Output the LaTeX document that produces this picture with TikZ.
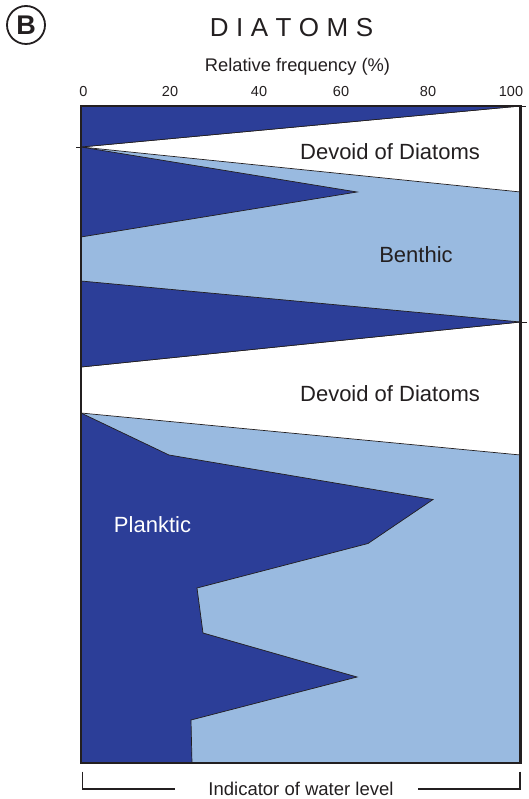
\documentclass[tikz,border=0pt]{standalone}
\usepackage{fontspec}
\setmainfont{Liberation Sans}
\usetikzlibrary{positioning}
\definecolor{planktic}{RGB}{44,62,152}
\definecolor{benthic}{RGB}{153,186,224}
\definecolor{ink}{RGB}{35,31,32}

\begin{document}
\begin{tikzpicture}[x=1pt, y=-1pt,
                zone/.style={draw=ink, line width=0.7pt, line join=miter},
                dark/.style={zone, fill=planktic},
                void/.style={zone, fill=white},
                label/.style={font=\fontsize{22}{24}\selectfont, anchor=base, inner sep=0pt, text=ink},
                tick/.style={font=\fontsize{14.5}{16}\selectfont, anchor=base, inner sep=0pt, text=ink},
                bracket/.style={draw=ink, line width=1.3pt},
            ]
            \useasboundingbox (0,0) rectangle (529,799);

            % Panel letter and headings
            \node[circle, draw=ink, line width=1.8pt, minimum size=38pt, inner sep=0pt,
                  font=\bfseries\fontsize{27}{27}\selectfont, text=ink] (panel) at (26,25) {B};
            \node[anchor=base, inner sep=0pt, font=\fontsize{26}{28}\selectfont, text=ink] (title) at (291.5,37)
                {D\kern7.5pt I\kern7.5pt A\kern7.5pt T\kern7.5pt O\kern7.5pt M\kern7.5pt S};
            \node[anchor=base, inner sep=0pt, font=\fontsize{18.3}{20}\selectfont, text=ink] (xlabel) at (297.5,72)
                {Relative frequency (\%)};

            % Axis numbers
            \node[tick] (t0) at (83.5,97) {0};
            \node[tick] (t20) at (170,97) {20};
            \node[tick] (t40) at (259,97) {40};
            \node[tick] (t60) at (341,97) {60};
            \node[tick] (t80) at (428,97) {80};
            \node[tick] (t100) at (511,97) {100};

            % Benthic background
            \fill[benthic] (81,106) rectangle (520.5,763);

            % Devoid zones
            \draw[void] (81,147) -- (520.5,106) -- (520.5,192) -- cycle;
            \draw[void] (81,367) -- (520.5,322) -- (520.5,455) -- (81,413) -- cycle;

            % Planktic zones
            \draw[dark] (81,106) -- (520.5,106) -- (81,147) -- cycle;
            \draw[dark] (81,147) -- (357,192) -- (81,237) -- cycle;
            \draw[dark] (81,281) -- (520.5,322) -- (81,367) -- cycle;
            \draw[dark] (81,413) -- (169,455) -- (433,499.5) -- (368,543.5) -- (197,588)
                -- (203,633) -- (357,677) -- (191,720) -- (192,763) -- (81,763) -- cycle;

            % Small ticks
            \draw[zone] (76,147) -- (81,147);
            \draw[zone] (520.5,106) -- (526,106);
            \draw[zone] (520.5,322) -- (527,322);

            % Frame
            \draw[draw=ink, line width=2.6pt] (81,106) rectangle (520.5,763);

            % Zone labels
            \node[label] (devoidtop) at (390,159.5) {Devoid of Diatoms};
            \node[label] (benthiclabel) at (416,262) {Benthic};
            \node[label] (devoidmid) at (390,401.5) {Devoid of Diatoms};
            \node[label, text=white] (plankticlabel) at (152.5,532) {Planktic};

            % Bottom bracket
            \node[anchor=base, inner sep=0pt, font=\fontsize{18.5}{20}\selectfont, text=ink] (indicator) at (301,795)
                {Indicator of water level};
            \coordinate (bl) at (82.7,771.5);
            \coordinate (br) at (520,771.5);
            \draw[bracket] (bl) |- (175,789);
            \draw[bracket] (br) |- (418,789);

\end{tikzpicture}
\end{document}
